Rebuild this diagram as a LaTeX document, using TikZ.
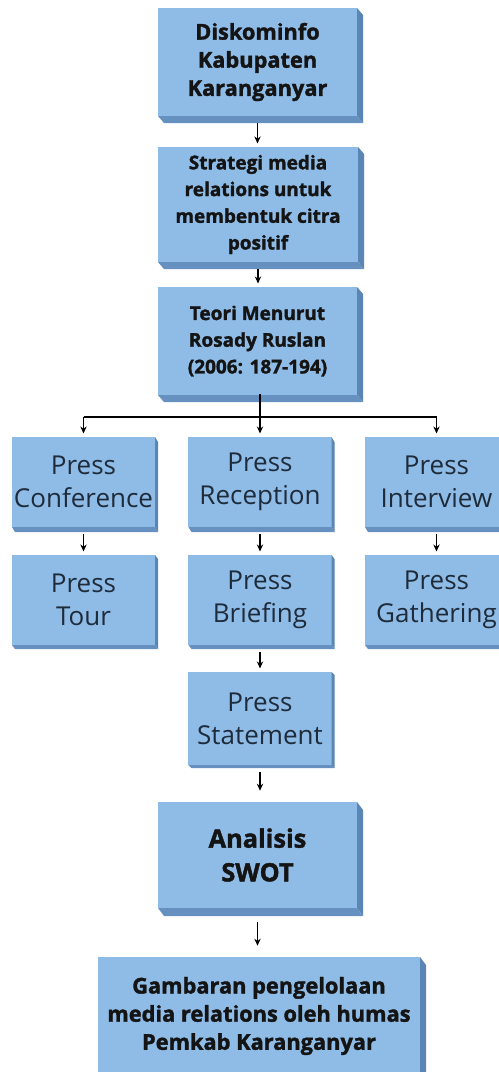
\documentclass[tikz,border=0pt]{standalone}
\usepackage{fontspec}
\setmainfont{Open Sans}[BoldFeatures={FakeBold=1.6}]
\usetikzlibrary{%
  arrows.meta,%
  backgrounds,%
  positioning% wg. " of "
}
\definecolor{boxface}{HTML}{8FBCE6}
\definecolor{boxside}{HTML}{5A86B6}
\definecolor{boxfoot}{HTML}{6690BF}
\definecolor{boxtext}{HTML}{1E2B3B}
\tikzset{
  frame/.style={fill=boxface, inner sep=0, outer sep=0, align=center},
  headbox/.style={frame, font=\bfseries\fontsize{15.5}{20}\selectfont, text=black!92},
  pressbox/.style={frame, minimum width=3.575cm, minimum height=2.25cm,
    font=\fontsize{18.5}{23.5}\selectfont, text=boxtext},
  conn/.style={draw, -{Stealth[length=5pt,width=4.5pt]}, line width=0.9pt,
    shorten <=5pt, shorten >=2.5pt},
  branch/.style={draw, line width=0.9pt},
}

\begin{document}
\begin{tikzpicture}[x=0.025cm,y=-0.025cm]
      \path[use as bounding box, fill=white] (0,0) rectangle (499,1072);

      % kotak utama
      \node[headbox, minimum width=4.975cm, minimum height=2.7cm] (disko) at (257.5,62) {Diskominfo\\Kabupaten\\Karanganyar};
      \node[headbox, minimum width=5cm, minimum height=2.875cm, font=\bfseries\fontsize{13.5}{19}\selectfont] (strat) at (258,204.5) {Strategi media\\relations untuk\\membentuk citra\\positif};
      \node[headbox, minimum width=4.975cm, minimum height=2.7cm, font=\bfseries\fontsize{13.5}{19}\selectfont] (teori) at (257.5,341) {Teori Menurut\\Rosady Ruslan\\(2006: 187-194)};

      % kegiatan pers
      \node[pressbox] (conf) at (83.5,482) {Press\\Conference};
      \node[pressbox] (recep) at (260,482) {Press\\Reception};
      \node[pressbox] (interv) at (436.5,482) {Press\\Interview};
      \node[pressbox] (tour) at (83.5,600) {Press\\Tour};
      \node[pressbox] (brief) at (260,600) {Press\\Briefing};
      \node[pressbox] (gather) at (436.5,600) {Press\\Gathering};
      \node[pressbox, minimum height=2.325cm] (stmt) at (260,718.5) {Press\\Statement};

      \node[headbox, minimum width=4.975cm, minimum height=2.65cm, font=\bfseries\fontsize{18}{24}\selectfont] (swot) at (257.5,855) {Analisis\\SWOT};
      \node[headbox, minimum width=8.05cm, minimum height=2.95cm] (final) at (259,1016) {Gambaran pengelolaan\\media relations oleh humas\\Pemkab Karanganyar};

      % sisi 3D
      \foreach \n/\dx/\dy in {disko/6/7, strat/6/7, teori/6/7, swot/6/8, final/6/8,
          conf/3/5, recep/3/5, interv/3/5, tour/3/4, brief/3/4, gather/3/4, stmt/3/3}{
        \fill[boxside] (\n.north east) -- ([shift={(\dx,\dy)}]\n.north east)
          -- ([shift={(\dx,\dy)}]\n.south east) -- (\n.south east) -- cycle;
        \fill[boxfoot] (\n.south west) -- (\n.south east)
          -- ([shift={(\dx,\dy)}]\n.south east) -- ([shift={(\dx,\dy)}]\n.south west) -- cycle;
      }

      \coordinate (split) at (260,417);

      \path [conn] (disko.south) -- (disko.south |- strat.north);
      \path [conn] (strat.south) -- (strat.south |- teori.north);
      \path [branch] (split |- teori.south) ++(0,-1) -- (split);
      \path [branch] (split -| conf) -- (split -| interv);
      \path [conn, shorten <=0pt] (split -| conf) -- (conf.north);
      \path [conn, shorten <=0pt] (split) -- (recep.north);
      \path [conn, shorten <=0pt] (split -| interv) -- (interv.north);
      \path [conn] (conf.south) -- (tour.north);
      \path [conn] (recep.south) -- (brief.north);
      \path [conn] (interv.south) -- (gather.north);
      \path [conn] (brief.south) -- (stmt.north);
      \path [conn, line width=1.8pt, shorten >=8pt] (stmt.south) -- (stmt.south |- swot.north);
      \path [conn, line width=1.4pt, shorten <=10pt, shorten >=8pt] (swot.south) -- (swot.south |- final.north);
    \end{tikzpicture}
\end{document}
